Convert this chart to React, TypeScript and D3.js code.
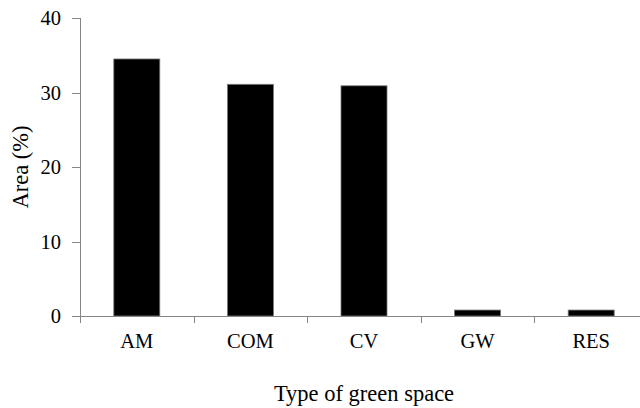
import React from "react";
import * as d3 from "d3";

const categories = ["AM", "COM", "CV", "GW", "RES"];
const values = [34.5, 31.1, 30.9, 0.8, 0.8];
const yTicks = [0, 10, 20, 30, 40];
const xTitle = "Type of green space";
const yTitle = "Area (%)";

const W = 640;
const H = 408;
const left = 80;
const right = 648;
const top = 18;
const bottom = 316;
const font = "Liberation Serif";
const axisColor = "#868686";

export default function App() {
  const x = d3
    .scaleBand<string>()
    .domain(categories)
    .range([left, right])
    .paddingInner(0.595)
    .paddingOuter(0.2975);
  const y = d3.scaleLinear().domain([0, 40]).range([bottom, top]);
  const step = x.step();
  const boundaries = d3.range(categories.length + 1).map((i) => left + i * step);

  return (
    <div style={{ position: "fixed", left: 0, top: 0 }}>
      <svg width={W} height={H} style={{ display: "block", background: "#fff", fontFamily: font }}>
        {categories.map((c, i) => (
          <rect
            key={c}
            x={x(c)!}
            y={y(values[i])}
            width={x.bandwidth()}
            height={y(0) - y(values[i])}
            fill="#000"
            stroke="#7a7a7a"
            strokeWidth={0.8}
          />
        ))}
        <line x1={left + 0.5} x2={left + 0.5} y1={y(40)} y2={bottom + 7} stroke={axisColor} strokeWidth={1} />
        {yTicks.map((t) => (
          <g key={t}>
            <line x1={72} x2={left} y1={Math.round(y(t)) + 0.5} y2={Math.round(y(t)) + 0.5} stroke={axisColor} strokeWidth={1} />
            <text x={61} y={y(t)} dy="0.35em" textAnchor="end" style={{ fontFamily: font, fontSize: 20.5 }} fill="#000">
              {t}
            </text>
          </g>
        ))}
        <line x1={left} x2={right} y1={bottom + 0.5} y2={bottom + 0.5} stroke={axisColor} strokeWidth={1} />
        {boundaries.map((b, i) => (
          <line key={i} x1={Math.round(b) + 0.5} x2={Math.round(b) + 0.5} y1={bottom} y2={bottom + 7} stroke={axisColor} strokeWidth={1} />
        ))}
        {categories.map((c) => (
          <text
            key={c}
            x={x(c)! + x.bandwidth() / 2}
            y={347.5}
            textAnchor="middle"
            style={{ fontFamily: font, fontSize: 20.5 }}
            fill="#000"
          >
            {c}
          </text>
        ))}
        <text x={364} y={401} textAnchor="middle" style={{ fontFamily: font, fontSize: 22.5 }} fill="#000">
          {xTitle}
        </text>
        <text
          transform={`translate(28, ${(top + bottom) / 2}) rotate(-90)`}
          textAnchor="middle"
          style={{ fontFamily: font, fontSize: 22.5 }}
          fill="#000"
        >
          {yTitle}
        </text>
      </svg>
    </div>
  );
}
